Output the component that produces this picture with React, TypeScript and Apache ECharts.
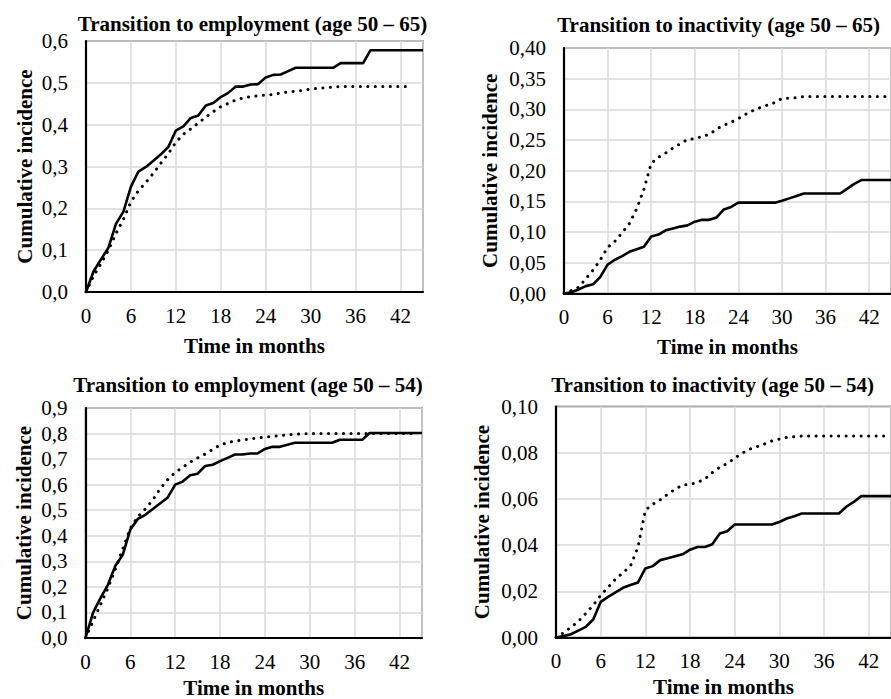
import React, { useEffect, useRef } from "react";
import * as echarts from "echarts";

const months = [0,1,2,3,4,5,6,7,8,9,10,11,12,13,14,15,16,17,18,19,20,21,22,23,24,25,26,27,28,29,30,31,32,33,34,35,36,37,38,39,40,41,42,43,44,45];
const xTicks = [0, 6, 12, 18, 24, 30, 36, 42];

const titles = [
  "Transition to employment (age 50 – 65)",
  "Transition to inactivity (age 50 – 65)",
  "Transition to employment (age 50 – 54)",
  "Transition to inactivity (age 50 – 54)",
];
const xName = "Time in months";
const yName = "Cumulative incidence";

// Panel 1: employment, age 50-65
const emp65Solid = [0,0.049,0.078,0.106,0.163,0.192,0.252,0.288,0.299,0.314,0.329,0.347,0.386,0.396,0.416,0.422,0.446,0.452,0.466,0.476,0.491,0.491,0.496,0.497,0.513,0.519,0.520,0.528,0.536,0.536,0.536,0.536,0.536,0.536,0.547,0.547,0.547,0.547,0.578,0.578,0.578,0.578,0.578,0.578,0.578,0.578];
const emp65Dotted = [0,0.038,0.068,0.100,0.140,0.174,0.216,0.242,0.262,0.284,0.308,0.331,0.358,0.377,0.390,0.404,0.418,0.431,0.443,0.451,0.459,0.464,0.467,0.469,0.471,0.472,0.476,0.478,0.480,0.482,0.485,0.487,0.488,0.490,0.491,0.491,0.491,0.491,0.491,0.491,0.491,0.491,0.491,0.491];

// Panel 2: inactivity, age 50-65
const inact65Solid = [0,0.002,0.0065,0.012,0.015,0.027,0.047,0.055,0.061,0.068,0.072,0.076,0.093,0.096,0.103,0.106,0.109,0.111,0.117,0.120,0.120,0.124,0.137,0.141,0.148,0.148,0.148,0.148,0.148,0.148,0.151,0.155,0.159,0.163,0.163,0.163,0.163,0.163,0.163,0.171,0.179,0.185,0.185,0.185,0.185,0.185];
const inact65Dotted = [0,0.005,0.010,0.024,0.038,0.055,0.075,0.085,0.099,0.114,0.138,0.170,0.212,0.222,0.229,0.237,0.244,0.251,0.252,0.256,0.259,0.268,0.274,0.279,0.285,0.292,0.298,0.303,0.307,0.311,0.318,0.318,0.319,0.321,0.321,0.321,0.321,0.321,0.321,0.321,0.321,0.321,0.321,0.321,0.321,0.321];

// Panel 3: employment, age 50-54
const emp54Solid = [0,0.098,0.156,0.208,0.283,0.327,0.425,0.466,0.482,0.505,0.527,0.550,0.600,0.612,0.637,0.643,0.673,0.678,0.692,0.705,0.718,0.718,0.722,0.722,0.740,0.748,0.748,0.756,0.764,0.764,0.764,0.764,0.764,0.764,0.776,0.776,0.776,0.776,0.802,0.802,0.802,0.802,0.802,0.802,0.802,0.802];
const emp54Dotted = [0,0.065,0.130,0.195,0.270,0.350,0.430,0.475,0.505,0.540,0.585,0.620,0.648,0.668,0.688,0.705,0.720,0.738,0.755,0.764,0.771,0.775,0.779,0.783,0.786,0.789,0.792,0.795,0.797,0.799,0.800,0.800,0.800,0.800,0.800,0.800,0.800,0.800,0.800,0.800,0.800,0.800,0.800,0.800,0.800];

// Panel 4: inactivity, age 50-54
const inact54Solid = [0,0.0006,0.0014,0.003,0.0046,0.0078,0.0154,0.0176,0.0195,0.0215,0.0227,0.0238,0.0299,0.0309,0.0335,0.0343,0.0352,0.036,0.038,0.0392,0.0392,0.0404,0.045,0.046,0.0489,0.0489,0.0489,0.0489,0.0489,0.0489,0.050,0.0515,0.0525,0.0537,0.0537,0.0537,0.0537,0.0537,0.0537,0.0566,0.0587,0.0612,0.0612,0.0612,0.0612,0.0612];
const inact54Dotted = [0,0.002,0.0044,0.007,0.0104,0.014,0.0183,0.0217,0.0253,0.028,0.031,0.039,0.0551,0.0577,0.0596,0.062,0.0642,0.066,0.0662,0.0672,0.0686,0.0714,0.0737,0.0753,0.0776,0.0798,0.0815,0.0826,0.0838,0.0851,0.0859,0.0866,0.0869,0.0872,0.0872,0.0872,0.0872,0.0872,0.0872,0.0872,0.0872,0.0872,0.0872,0.0872,0.0872,0.0872];

const yMax = [0.6, 0.4, 0.9, 0.1];
const yStep = [0.1, 0.05, 0.1, 0.02];
const yDecimals = [1, 2, 1, 2];

const FONT = '"Liberation Serif", "Times New Roman", serif';

const grids = [
  { left: 86, top: 41, width: 337, height: 251 },
  { left: 564, top: 48, width: 333.5, height: 245.5 },
  { left: 85.5, top: 408, width: 336.5, height: 232.5 },
  { left: 556, top: 406.5, width: 340.5, height: 231 },
];
const titlePos = [
  [252.5, 23.5],
  [718.5, 25],
  [248, 385],
  [712.5, 385],
];
const yNameGap = [51, 64, 51, 64];
const xNameGap = [43, 43, 39, 39];

const pairs = (vals: number[]) => vals.map((v, i) => [months[i], v]);

export default function App() {
  const ref = useRef<HTMLDivElement>(null);
  useEffect(() => {
    if (!ref.current) return;
    const chart = echarts.init(ref.current, undefined, { renderer: "svg" });
    const solids = [emp65Solid, inact65Solid, emp54Solid, inact54Solid];
    const dotteds = [emp65Dotted, inact65Dotted, emp54Dotted, inact54Dotted];
    const series: any[] = [];
    for (let i = 0; i < 4; i++) {
      series.push({
        type: "line",
        xAxisIndex: i,
        yAxisIndex: i,
        data: pairs(dotteds[i]),
        showSymbol: false,
        silent: true,
        clip: true,
        z: 3,
        lineStyle: { color: "#000", width: 3, type: [0.1, 7.4], cap: "round", join: "round" },
      });
      series.push({
        type: "line",
        xAxisIndex: i,
        yAxisIndex: i,
        data: pairs(solids[i]),
        showSymbol: false,
        silent: true,
        clip: true,
        z: 4,
        lineStyle: { color: "#000", width: 2.6, join: "round" },
      });
    }
    const option: any = {
      animation: false,
      backgroundColor: "#fff",
      textStyle: { fontFamily: FONT },
      grid: grids.map((g) => ({ ...g, show: true, borderColor: "#3a3a3a", borderWidth: 1.3, containLabel: false })),
      graphic: titles.map((t, i) => ({
        type: "text",
        x: titlePos[i][0],
        y: titlePos[i][1],
        style: {
          text: t,
          fontFamily: FONT,
          fontSize: 21,
          fontWeight: "bold",
          fill: "#000",
          align: "center",
          verticalAlign: "middle",
        },
      })),
      xAxis: grids.map((_, i) => ({
        type: "value",
        gridIndex: i,
        min: 0,
        max: 45,
        interval: 6,
        name: xName,
        nameLocation: "middle",
        nameGap: xNameGap[i],
        nameTextStyle: { fontFamily: FONT, fontSize: 21, fontWeight: "bold", color: "#000" },
        axisLine: { show: true, onZero: false, lineStyle: { color: "#000", width: 2.2 } },
        axisTick: { show: false },
        axisLabel: {
          fontFamily: FONT,
          fontSize: 21,
          color: "#000",
          margin: 13,
          showMaxLabel: false,
          formatter: (v: number) => (xTicks.indexOf(v) >= 0 ? String(v) : ""),
        },
        splitLine: { show: true, lineStyle: { color: "#d9d9d9", width: 1.5 } },
      })),
      yAxis: grids.map((_, i) => ({
        type: "value",
        gridIndex: i,
        min: 0,
        max: yMax[i],
        interval: yStep[i],
        name: yName,
        nameLocation: "middle",
        nameGap: yNameGap[i],
        nameTextStyle: { fontFamily: FONT, fontSize: 21, fontWeight: "bold", color: "#000" },
        axisLine: { show: true, lineStyle: { color: "#000", width: 2.2 } },
        axisTick: { show: false },
        axisLabel: {
          fontFamily: FONT,
          fontSize: 21,
          color: "#000",
          margin: 18,
          formatter: (v: number) => v.toFixed(yDecimals[i]).replace(".", ","),
        },
        splitLine: { show: true, lineStyle: { color: "#d9d9d9", width: 1.5 } },
      })),
      series,
    };
    chart.setOption(option);
    return () => chart.dispose();
  }, []);
  return <div ref={ref} style={{ position: "fixed", left: 0, top: 0, width: 891, height: 699 }} />;
}
